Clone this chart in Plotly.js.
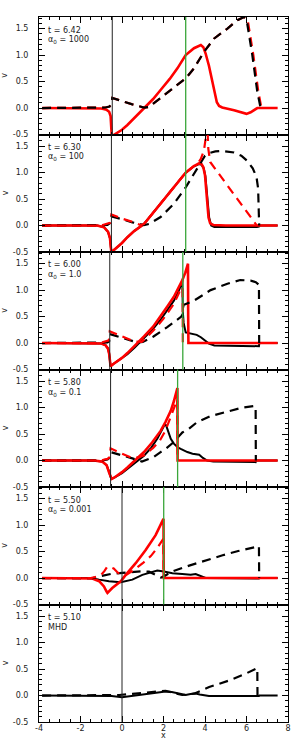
<!DOCTYPE html>
<html><head><meta charset="utf-8">
<script src="https://cdn.plot.ly/plotly-3.0.1.min.js"></script>
<style>html,body{margin:0;padding:0;background:#fff}#chart{width:293px;height:741px}</style>
</head><body><div id="chart"></div>
<script>
// ---------- data ----------
const xTickVals = [-4, -2, 0, 2, 4, 6, 8];
const xTickText = ['-4', '-2', '0', '2', '4', '6', '8'];
const yTickVals = [-0.5, 0, 0.5, 1, 1.5];
const yTickText = ['-0.5', '0.0', '0.5', '1.0', '1.5'];

const panelTimes = ['t = 6.42', 't = 6.30', 't = 6.00', 't = 5.80', 't = 5.50', 't = 5.10'];
const panelParams = ['α<sub>0</sub> = 1000', 'α<sub>0</sub> = 100', 'α<sub>0</sub> = 1.0', 'α<sub>0</sub> = 0.1', 'α<sub>0</sub> = 0.001', 'MHD'];
const blackRefX = [-0.47, -0.51, -0.59, -0.55, 0, 0];
const greenRefX = [3.07, 3.07, 2.93, 2.68, 2.01, null];

// panel 1 (alpha0 = 1000)
const p1RedSolidX = [-3.85, -1.5, -1.0, -0.75, -0.62, -0.55, -0.51, -0.48, -0.46, -0.4, 0.0, 0.26, 0.6, 1.06, 1.5, 1.86, 2.3, 2.67, 3.07, 3.47, 3.65, 3.8, 3.92, 4.03, 4.19, 4.35, 4.47, 4.57, 4.68, 4.83, 5.4, 5.9, 6.0, 6.2, 6.4, 6.52, 7.5];
const p1RedSolidY = [0, 0, -0.01, -0.03, -0.07, -0.15, -0.3, -0.6, -0.75, -0.51, -0.41, -0.32, -0.19, -0.01, 0.17, 0.34, 0.55, 0.75, 1.0, 1.13, 1.17, 1.19, 1.15, 1.03, 0.8, 0.5, 0.27, 0.11, 0.04, 0.01, -0.04, -0.1, -0.11, -0.08, -0.02, 0, 0];
const p1BlackDashX = [-3.85, -1.1, -0.8, -0.6, -0.5, -0.47, 0.0, 0.5, 1.06, 1.3, 1.86, 2.3, 2.67, 3.07, 3.47, 3.95, 4.43, 5.08, 5.56, 5.88, 6.0, 6.28, 6.52, 6.68];
const p1BlackDashY = [0, 0, 0.01, 0.03, 0.08, 0.19, 0.13, 0.07, 0.01, 0.02, 0.19, 0.33, 0.44, 0.56, 0.75, 1.06, 1.31, 1.5, 1.66, 1.72, 1.68, 1.0, 0.31, 0];
const p1RedDashX = [-3.85, -1.1, -0.8, -0.6, -0.5, -0.47, 0.0, 0.5, 1.06, 1.3, 1.86, 2.3, 2.67, 3.07, 3.47, 3.95, 4.43, 5.08, 5.56, 5.88, 6.05, 6.33, 6.57, 6.72];
const p1RedDashY = [0, 0, 0.01, 0.03, 0.08, 0.19, 0.13, 0.07, 0.01, 0.02, 0.19, 0.33, 0.44, 0.56, 0.75, 1.06, 1.31, 1.5, 1.66, 1.72, 1.68, 1.0, 0.31, 0];

// panel 2 (alpha0 = 100)
const p2RedSolidX = [-3.85, -1.2, -0.87, -0.67, -0.58, -0.54, -0.52, -0.5, -0.47, 0.0, 0.26, 0.6, 1.06, 1.45, 1.86, 2.25, 2.67, 3.07, 3.47, 3.71, 3.82, 3.92, 4.0, 4.06, 4.11, 4.17, 4.25, 4.4, 5.0, 7.5];
const p2RedSolidY = [0, 0, -0.03, -0.12, -0.24, -0.35, -0.45, -0.56, -0.49, -0.33, -0.22, -0.1, 0.03, 0.22, 0.41, 0.6, 0.81, 1.0, 1.125, 1.175, 1.17, 1.1, 0.95, 0.7, 0.45, 0.15, 0.04, 0.01, 0, 0];
const p2BlackSolidX = [-3.85, -1.2, -0.87, -0.67, -0.58, -0.54, -0.52, -0.5, -0.47, 0.0, 0.26, 0.6, 1.06, 1.45, 1.86, 2.25, 2.67, 3.07, 3.47, 3.71, 3.83, 3.94, 4.02, 4.08, 4.14, 4.2, 4.3, 4.45, 6.5, 6.6, 6.65, 7.5];
const p2BlackSolidY = [0, 0, -0.03, -0.12, -0.24, -0.35, -0.45, -0.56, -0.49, -0.33, -0.22, -0.1, 0.03, 0.22, 0.41, 0.6, 0.81, 1.0, 1.12, 1.16, 1.15, 1.08, 0.93, 0.7, 0.45, 0.15, 0.0, -0.03, -0.03, -0.02, 0, 0];
const p2BlackDashX = [-3.85, -1.0, -0.7, -0.56, -0.51, 0.0, 0.5, 1.06, 1.3, 1.86, 2.5, 3.07, 3.47, 3.71, 3.85, 4.0, 4.2, 4.5, 4.8, 5.4, 5.75, 6.04, 6.3, 6.48, 6.56, 6.6, 6.61];
const p2BlackDashY = [0, 0, 0.01, 0.05, 0.17, 0.12, 0.06, 0.01, 0.03, 0.16, 0.41, 0.72, 0.97, 1.12, 1.2, 1.32, 1.37, 1.4, 1.41, 1.38, 1.32, 1.22, 1.08, 0.92, 0.7, 0.35, 0];
const p2RedDashX = [-3.85, -1.0, -0.85, -0.7, -0.58, -0.51, 0.0, 0.5, 0.9, 1.06, 1.45, 1.86, 2.25, 2.67, 3.07, 3.47, 3.65, 3.8, 3.95, 4.05, 4.11, 4.16, 4.25, 5.0, 5.8, 6.5];
const p2RedDashY = [0, 0, 0.02, 0.03, 0.05, 0.21, 0.13, 0.07, 0.01, 0.03, 0.22, 0.41, 0.6, 0.81, 1.0, 1.125, 1.17, 1.26, 1.42, 1.7, 1.9, 1.45, 1.2, 0.8, 0.38, 0];

// panel 3 (alpha0 = 1.0)
const p3RedSolidX = [-3.85, -1.3, -1.0, -0.8, -0.68, -0.62, -0.6, -0.58, -0.55, -0.4, 0.0, 0.26, 0.6, 1.06, 1.5, 1.86, 2.2, 2.5, 2.75, 2.91, 3.05, 3.18, 3.19, 3.2, 7.5];
const p3RedSolidY = [0, 0, -0.01, -0.04, -0.1, -0.2, -0.3, -0.42, -0.44, -0.39, -0.28, -0.19, -0.06, 0.125, 0.31, 0.5, 0.7, 0.875, 1.06, 1.19, 1.33, 1.5, 0.5, 0, 0];
const p3BlackSolidX = [-3.85, -1.3, -1.0, -0.8, -0.68, -0.62, -0.6, -0.58, -0.55, -0.4, 0.0, 0.26, 0.6, 1.06, 1.5, 1.86, 2.2, 2.5, 2.75, 2.91, 2.93, 2.97, 3.07, 3.3, 3.6, 3.8, 3.95, 4.19, 4.45, 6.6, 6.62, 7.5];
const p3BlackSolidY = [0, 0, -0.01, -0.04, -0.1, -0.2, -0.3, -0.42, -0.44, -0.39, -0.29, -0.21, -0.09, 0.1, 0.27, 0.44, 0.62, 0.8, 1.0, 1.16, 0.6, 0.38, 0.2, 0.175, 0.155, 0.11, 0.07, -0.01, -0.045, -0.06, 0, 0];
const p3BlackDashX = [-3.85, -1.0, -0.7, -0.62, -0.59, 0.0, 0.74, 1.0, 1.5, 2.18, 2.86, 2.93, 2.96, 3.47, 4.27, 5.08, 5.7, 6.2, 6.45, 6.6, 6.61];
const p3BlackDashY = [0, 0, 0.01, 0.03, 0.17, 0.1, 0.01, 0.02, 0.12, 0.3, 0.5, 0.55, 0.72, 0.8, 1.0, 1.12, 1.19, 1.18, 1.15, 1.1, 0];
const p3RedDashX = [-3.85, -1.0, -0.9, -0.75, -0.63, -0.59, 0.0, 0.6, 0.95, 1.5, 2.0, 2.5, 2.75, 2.92, 2.93];
const p3RedDashY = [0, 0, 0.02, 0.03, 0.05, 0.22, 0.12, 0.03, 0.02, 0.23, 0.46, 0.74, 0.95, 1.2, 0];

// panel 4 (alpha0 = 0.1)
const p4RedSolidX = [-3.85, -1.35, -0.95, -0.74, -0.63, -0.55, -0.5, -0.4, 0.0, 0.26, 0.65, 1.06, 1.45, 1.86, 2.1, 2.35, 2.5, 2.63, 2.67, 2.68, 7.5];
const p4RedSolidY = [0, 0, -0.02, -0.09, -0.22, -0.33, -0.35, -0.33, -0.22, -0.13, 0.01, 0.16, 0.34, 0.56, 0.73, 0.94, 1.12, 1.32, 1.37, 0, 0];
const p4BlackSolidX = [-3.85, -1.35, -0.95, -0.74, -0.63, -0.55, -0.48, -0.35, 0.0, 0.26, 0.65, 1.06, 1.4, 1.7, 1.94, 2.07, 2.13, 2.22, 2.35, 2.5, 2.68, 2.83, 3.15, 3.4, 3.55, 3.72, 3.9, 4.1, 4.4, 6.44, 6.46, 7.5];
const p4BlackSolidY = [0, 0, -0.02, -0.09, -0.2, -0.31, -0.34, -0.32, -0.24, -0.16, -0.04, 0.09, 0.24, 0.41, 0.59, 0.69, 0.66, 0.56, 0.41, 0.32, 0.25, 0.22, 0.16, 0.13, 0.12, 0.11, 0.05, 0.0, -0.02, -0.03, 0, 0];
const p4BlackDashX = [-3.85, -1.0, -0.7, -0.6, -0.55, 0.0, 0.5, 0.96, 1.3, 1.54, 1.86, 2.1, 2.47, 2.91, 3.23, 3.6, 4.27, 4.6, 5.2, 5.8, 6.36, 6.44, 6.45];
const p4BlackDashY = [0, 0, 0.02, 0.05, 0.16, 0.1, 0.04, -0.02, 0.04, 0.07, 0.16, 0.22, 0.34, 0.53, 0.6, 0.72, 0.84, 0.875, 0.95, 1.0, 1.03, 1.02, 0];
const p4RedDashX = [-3.85, -1.0, -0.85, -0.7, -0.6, -0.55, 0.0, 0.42, 0.8, 1.06, 1.5, 1.8, 2.1, 2.35, 2.5, 2.66, 2.68];
const p4RedDashY = [0, 0, 0.02, 0.03, 0.06, 0.23, 0.13, 0.06, 0.06, 0.1, 0.24, 0.36, 0.57, 0.82, 0.98, 1.15, 0];

// panel 5 (alpha0 = 0.001)
const p5RedSolidX = [-3.85, -1.6, -1.43, -1.1, -0.87, -0.75, -0.7, -0.47, -0.06, 0.18, 0.66, 1.14, 1.62, 1.94, 2.0, 2.01, 7.5];
const p5RedSolidY = [0, 0, -0.01, -0.06, -0.16, -0.25, -0.28, -0.19, -0.06, 0.06, 0.28, 0.53, 0.81, 1.07, 1.12, 0, 0];
const p5BlackSolidX = [-3.85, -1.5, -1.1, -0.63, -0.06, 0.5, 0.98, 1.38, 1.7, 2.02, 2.43, 2.9, 3.31, 3.55, 3.79, 4.03, 6.6, 6.62, 7.5];
const p5BlackSolidY = [0, 0, -0.03, -0.06, -0.08, -0.03, 0.06, 0.11, 0.14, 0.125, 0.09, 0.075, 0.06, 0.075, 0.03, 0, -0.01, 0, 0];
const p5BlackDashX = [-3.85, -1.4, -1.1, -0.5, 0.2, 0.9, 1.3, 1.6, 1.88, 2.01, 2.4, 3.2, 4.0, 4.85, 5.6, 6.3, 6.6, 6.61];
const p5BlackDashY = [0, 0, 0.03, 0.08, 0.105, 0.125, 0.12, 0.07, 0.01, 0.03, 0.12, 0.23, 0.33, 0.43, 0.51, 0.58, 0.6, 0];
const p5RedDashX = [-3.85, -1.5, -1.3, -1.0, -0.85, -0.72, -0.6, -0.4, -0.2, -0.05, 0.2, 0.6, 1.0, 1.4, 1.7, 1.99, 2.01];
const p5RedDashY = [0, 0, 0.02, 0.06, 0.13, 0.21, 0.21, 0.18, 0.1, 0.06, 0.06, 0.16, 0.28, 0.42, 0.57, 0.74, 0];

// panel 6 (MHD)
const p6BlackSolidX = [-3.85, -1.0, -0.5, 0.0, 0.4, 0.82, 1.2, 1.6, 2.1, 2.4, 2.7, 3.07, 3.3, 3.55, 3.75, 3.95, 4.19, 6.6, 6.62, 7.5];
const p6BlackSolidY = [0, 0, -0.01, -0.03, -0.01, 0.01, 0.04, 0.06, 0.075, 0.065, 0.04, 0.01, 0.03, 0.04, 0.02, 0.0, -0.01, -0.01, 0, 0];
const p6BlackDashX = [-3.85, -0.5, -0.14, 0.5, 1.14, 1.78, 2.1, 2.5, 2.9, 3.2, 3.5, 4.2, 5.2, 6.0, 6.52, 6.53];
const p6BlackDashY = [0, 0, 0.01, 0.03, 0.05, 0.075, 0.09, 0.05, 0.01, 0.02, 0.04, 0.16, 0.29, 0.42, 0.52, 0];

// ---------- styles ----------
const RED = '#ff0000', BLACK = '#000000', GREEN = '#3aa63a';
const DASH = '9px,6px';
const FONT = 'DejaVu Sans, Liberation Sans, sans-serif';

// draw order per panel (bottom first)
const panels = [
  [['rs', p1RedSolidX, p1RedSolidY], ['rd', p1RedDashX, p1RedDashY], ['bd', p1BlackDashX, p1BlackDashY]],
  [['bs', p2BlackSolidX, p2BlackSolidY], ['rs', p2RedSolidX, p2RedSolidY], ['bd', p2BlackDashX, p2BlackDashY], ['rd', p2RedDashX, p2RedDashY]],
  [['bs', p3BlackSolidX, p3BlackSolidY], ['rs', p3RedSolidX, p3RedSolidY], ['bd', p3BlackDashX, p3BlackDashY], ['rd', p3RedDashX, p3RedDashY]],
  [['bs', p4BlackSolidX, p4BlackSolidY], ['rs', p4RedSolidX, p4RedSolidY], ['bd', p4BlackDashX, p4BlackDashY], ['rd', p4RedDashX, p4RedDashY]],
  [['bs', p5BlackSolidX, p5BlackSolidY], ['rs', p5RedSolidX, p5RedSolidY], ['bd', p5BlackDashX, p5BlackDashY], ['rd', p5RedDashX, p5RedDashY]],
  [['bs', p6BlackSolidX, p6BlackSolidY], ['bd', p6BlackDashX, p6BlackDashY]]
];
const styles = {
  rs: {color: RED, width: 2.6, dash: 'solid'},
  bs: {color: BLACK, width: 2.0, dash: 'solid'},
  rd: {color: RED, width: 2.2, dash: DASH},
  bd: {color: BLACK, width: 2.2, dash: DASH}
};

const N = panels.length;
const traces = [];
const shapes = [];
const annotations = [];
const layout = {
  width: 293, height: 741,
  margin: {l: 39, r: 5, t: 17, b: 19, pad: 0},
  paper_bgcolor: '#ffffff', plot_bgcolor: '#ffffff',
  showlegend: false,
  font: {family: FONT, size: 8, color: '#222'}
};

for (let i = 0; i < N; i++) {
  const k = i + 1;
  const xa = k === 1 ? 'x' : 'x' + k;
  const ya = k === 1 ? 'y' : 'y' + k;
  panels[i].forEach(([kind, xs, ys]) => {
    traces.push({type: 'scatter', mode: 'lines', x: xs, y: ys, xaxis: xa, yaxis: ya,
      line: Object.assign({}, styles[kind]), hoverinfo: 'skip', showlegend: false});
  });
  const top = 1 - i / N, bot = 1 - (i + 1) / N;
  const xaxis = {
    domain: [0, 1], anchor: ya, range: [-4, 8],
    tickmode: 'array', tickvals: xTickVals, ticktext: xTickText,
    showticklabels: k === N, ticks: 'inside', ticklen: 6, tickwidth: 1, tickcolor: '#000',
    minor: {tickmode: 'linear', tick0: -4, dtick: 0.5, ticks: 'inside', ticklen: 3, tickwidth: 1, tickcolor: '#000'},
    showline: true, linecolor: '#000', linewidth: 1, mirror: 'ticks',
    showgrid: false, zeroline: false, ticklabelstandoff: -2,
    tickfont: {family: FONT, size: 8, color: '#222'}
  };
  if (k !== 1) xaxis.matches = 'x';
  layout['xaxis' + (k === 1 ? '' : k)] = xaxis;
  layout['yaxis' + (k === 1 ? '' : k)] = {
    domain: [bot, top], anchor: xa, range: [-0.5, 1.72],
    tickmode: 'array', tickvals: yTickVals, ticktext: yTickText,
    ticks: 'inside', ticklen: 6, tickwidth: 1, tickcolor: '#000',
    minor: {tickmode: 'linear', tick0: -0.5, dtick: 0.1, ticks: 'inside', ticklen: 3, tickwidth: 1, tickcolor: '#000'},
    showline: true, linecolor: '#000', linewidth: 1, mirror: 'ticks',
    showgrid: false, zeroline: false, ticklabelstandoff: 8,
    tickfont: {family: FONT, size: 8, color: '#222'}
  };
  shapes.push({type: 'line', xref: xa, yref: ya + ' domain', x0: blackRefX[i], x1: blackRefX[i], y0: 0, y1: 1,
    line: {color: '#222', width: 1}});
  if (greenRefX[i] !== null) {
    shapes.push({type: 'line', xref: xa, yref: ya + ' domain', x0: greenRefX[i], x1: greenRefX[i], y0: 0, y1: 1,
      line: {color: GREEN, width: 1.3}});
  }
  annotations.push({text: panelTimes[i], xref: xa + ' domain', yref: ya + ' domain', x: 0.03, y: 1,
    xanchor: 'left', yanchor: 'middle', yshift: -13, showarrow: false, align: 'left',
    font: {family: FONT, size: 8, color: '#222'}});
  annotations.push({text: panelParams[i], xref: xa + ' domain', yref: ya + ' domain', x: 0.03, y: 1,
    xanchor: 'left', yanchor: 'middle', yshift: -23, showarrow: false, align: 'left',
    font: {family: FONT, size: 8, color: '#222'}});
  annotations.push({text: 'v', xref: 'paper', yref: ya + ' domain', x: -0.1365, y: 0.5,
    xanchor: 'center', yanchor: 'middle', textangle: -90, showarrow: false,
    font: {family: FONT, size: 8, color: '#222'}});
}
annotations.push({text: 'x', xref: 'paper', yref: 'paper', x: 0.5, y: 0, xanchor: 'center', yanchor: 'bottom',
  yshift: -19, borderpad: 0, showarrow: false, font: {family: FONT, size: 8, color: '#222'}});

layout.shapes = shapes;
layout.annotations = annotations;

Plotly.newPlot('chart', traces, layout, {displayModeBar: false, staticPlot: true});
</script></body></html>
